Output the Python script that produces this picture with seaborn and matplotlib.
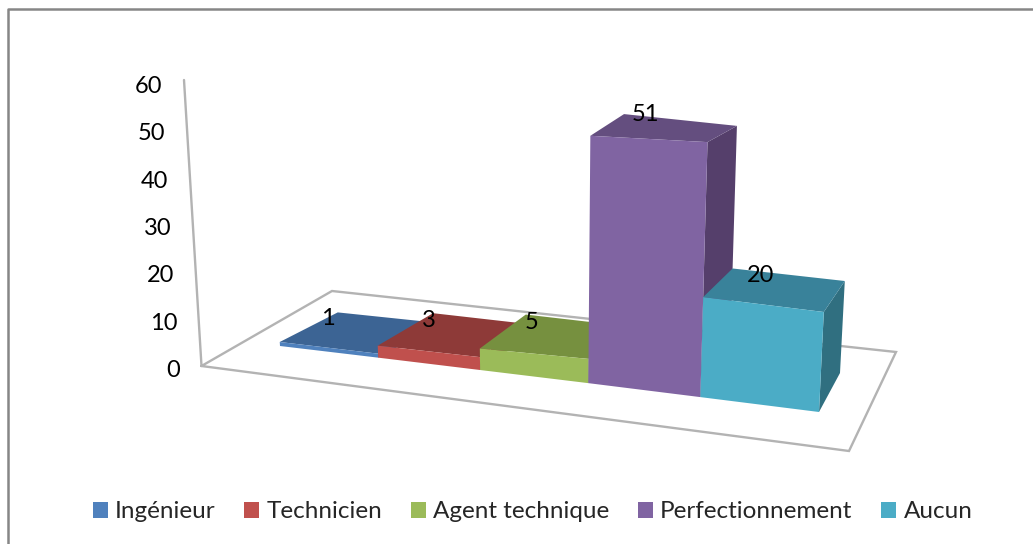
import numpy as np
import pandas as pd
import matplotlib
matplotlib.use("Agg")
import matplotlib.pyplot as plt
from matplotlib.transforms import Transform
import seaborn as sns

# Training level of the respondents
categories = ["Ingénieur", "Technicien", "Agent technique", "Perfectionnement", "Aucun"]
values = [1, 3, 5, 51, 20]
tick_values = [0, 10, 20, 30, 40, 50, 60]
front_colors = ["#4F81BD", "#C0504D", "#9BBB59", "#8064A2", "#4BACC6"]
top_colors = ["#3C6494", "#8E3A38", "#76903F", "#644E7F", "#39829A"]
side_colors = ["#33557E", "#7A3230", "#637A36", "#553F6B", "#306F80"]

W, H = 1033, 544
SLOTS = [0, 1, 2, 3, 4, 5]


def floor_homography(src, dst):
    """Solve the plane homography sending the src corners onto the dst corners."""
    rows, rhs = [], []
    for (a, b), (x, y) in zip(src, dst):
        rows.append([a, b, 1, 0, 0, 0, -a * x, -b * x])
        rows.append([0, 0, 0, a, b, 1, -a * y, -b * y])
        rhs += [x, y]
    return np.append(np.linalg.solve(np.array(rows, float), np.array(rhs, float)), 1).reshape(3, 3)


# Plot floor: (bar slot, depth) -> canvas pixels
FLOOR = floor_homography([(0, 0), (5, 0), (0, 1), (5, 1)],
                         [(280, 346), (819, 412), (338, 317), (840, 373)])


def project(x, value, depth=0.0):
    """Oblique perspective view of a point given by bar x, value and depth."""
    x, value = np.asarray(x, float), np.asarray(value, float)
    u = x + 0.5
    w = FLOOR @ np.stack([u, np.full_like(u, depth), np.ones_like(u)])
    px, py = w[0] / w[2], w[1] / w[2]
    # Slot spacing is slightly uneven along the front and back edges
    px = px + np.interp(u, SLOTS, [0, 3, 4, 5, 3, 0]) * (1 - depth) \
            + np.interp(u, SLOTS, [0, 6, 4, 0, 2, 0]) * depth
    rise = np.interp(u, SLOTS, [4.0, 4.0, 4.3, 4.85, 5.0, 5.0]) * (1 - depth) + 4.6 * depth
    lean = 0.1 * (u - 2.6)
    return px + value * lean, py - value * rise


class FrontFace(Transform):
    """Carries bars from (x, value) coordinates onto the front plane of the view."""
    input_dims = output_dims = 2
    is_affine = False
    has_inverse = False

    def transform_non_affine(self, xy):
        xy = np.asarray(xy, float)
        return np.column_stack(project(xy[:, 0], xy[:, 1]))


sns.set_theme(style="white")
plt.rcParams["font.family"] = ["Lato", "DejaVu Sans"]

fig = plt.figure(figsize=(W / 100, H / 100), dpi=100, facecolor="white")
ax = fig.add_axes([0, 0, 1, 1])

df = pd.DataFrame({"niveau": categories, "effectif": values})
sns.barplot(data=df, x="niveau", y="effectif", hue="niveau", order=categories,
            hue_order=categories, palette=front_colors, width=1.0, saturation=1.0,
            linewidth=0, legend=True, ax=ax)
handles, labels = ax.get_legend_handles_labels()

ax.set_xlim(0, W)
ax.set_ylim(H, 0)
ax.axis("off")

# Chart frame: only its left and top edges fall inside the canvas
ax.plot([7.5, 7.5, W], [H, 8.5, 8.5], color="#868686", lw=1.8, zorder=1)

# Floor outline and vertical axis
floor_x = [184, 201.5, 849, 896, 332, 201.5]
floor_y = [80, 366, 451, 352, 291, 366]
ax.plot(floor_x, floor_y, color="#B3B3B3", lw=1.7, solid_joinstyle="miter", zorder=1)

# Value axis labels follow the tilted axis line
for v in tick_values:
    ty = 370.5 - v * 4.73
    tx = 202 + (ty - 366) * 0.0629 - 22
    ax.text(tx, ty, str(v), ha="right", va="center", fontsize=17, color="black", zorder=20)

# Cuboids run left to right so that each one overlaps its neighbour
bars = sorted((p for p in ax.patches if np.isfinite(p.get_height()) and p.get_height() > 0),
              key=lambda p: p.get_x())
for i, bar in enumerate(bars):
    x0, x1 = bar.get_x(), bar.get_x() + bar.get_width()
    v = bar.get_height()
    z = 5 + i * 3
    side = np.array([project(x1, 0, 0), project(x1, 0, 1), project(x1, v, 1), project(x1, v, 0)])
    top = np.array([project(x0, v, 0), project(x1, v, 0), project(x1, v, 1), project(x0, v, 1)])
    ax.fill(side[:, 0], side[:, 1], color=side_colors[i], lw=0, zorder=z)
    ax.fill(top[:, 0], top[:, 1], color=top_colors[i], lw=0, zorder=z + 1)
    bar.set_transform(FrontFace() + ax.transData)
    bar.set_clip_on(False)
    bar.set_zorder(z + 2)
    cx, cy = np.mean(top, axis=0)
    ax.text(cx - 29 + 3.4 * i, cy - 14.5, str(values[i]), ha="center", va="center",
            fontsize=17, color="black", zorder=30)

ax.legend(handles, labels, ncol=5, frameon=False, loc="center", bbox_to_anchor=(532.5 / W, 1 - 512 / H),
          fontsize=17.5, handlelength=0.617, handleheight=0.617, handletextpad=0.29, columnspacing=1.19,
          borderpad=0, borderaxespad=0)

fig.savefig("out.png", dpi=100)
